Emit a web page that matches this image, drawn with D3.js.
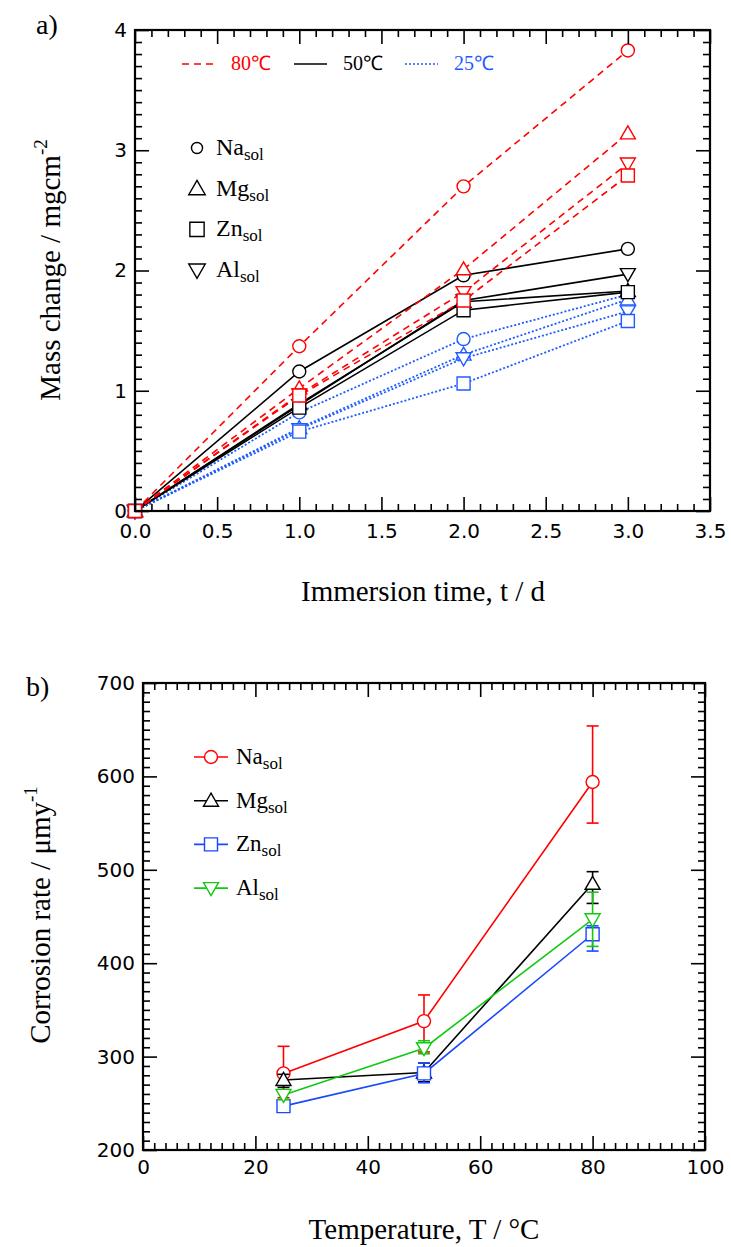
<!DOCTYPE html>
<html><head><meta charset="utf-8">
<script src="https://cdn.jsdelivr.net/npm/d3@7"></script>
<style>body{margin:0;background:#fff}svg{display:block}</style>
</head><body>
<script>
// ---------- data: panel a ----------
const days = [0, 1, 2, 3];
const na80 = [0, 1.37, 2.70, 3.83];
const mg80 = [0, 1.02, 2.01, 3.14];
const al80 = [0, 0.97, 1.82, 2.89];
const zn80 = [0, 0.96, 1.75, 2.79];
const na50 = [0, 1.16, 1.96, 2.18];
const mg50 = [0, 0.89, 1.74, 1.83];
const al50 = [0, 0.88, 1.75, 1.97];
const zn50 = [0, 0.86, 1.67, 1.82];
const na25 = [0, 0.82, 1.43, 1.80];
const mg25 = [0, 0.69, 1.30, 1.76];
const al25 = [0, 0.68, 1.27, 1.66];
const zn25 = [0, 0.66, 1.06, 1.58];
const tempLabels = ["80\u2103", "50\u2103", "25\u2103"];
const solNames = ["Na", "Mg", "Zn", "Al"];
const xTicksA = [0, 0.5, 1, 1.5, 2, 2.5, 3, 3.5];
const yTicksA = [0, 1, 2, 3, 4];

// ---------- data: panel b ----------
const temps = [25, 50, 80];
const naRate = [282, 338, 594];
const naLo = [256, 305, 550];
const naHi = [311, 366, 654];
const mgRate = [275, 283, 485];
const mgLo = [267, 273, 464];
const mgHi = [281, 293, 498];
const znRate = [247, 282, 431];
const znLo = [243, 272, 413];
const znHi = [251, 293, 440];
const alRate = [259, 309, 447];
const alLo = [254, 303, 418];
const alHi = [264, 317, 476];
const xTicksB = [0, 20, 40, 60, 80, 100];
const yTicksB = [200, 300, 400, 500, 600, 700];

const W = 731, H = 1247;
const svg = d3.select("body").append("svg").attr("width", W).attr("height", H);

const serif = "'Liberation Serif','Times New Roman',serif";
const sans = "'DejaVu Sans',Arial,Helvetica,sans-serif";
const RED = "#ff0000", BLACK = "#000000", BLUE_A = "#1f5cff", BLUE_B = "#1848ff", GREEN = "#12c912";

function markerPath(type, k = 1) {
  const r = 6.5 * k, a = 7.5 * k, h1 = 7.5 * k, h2 = 5.5 * k, q = 6.5 * k;
  switch (type) {
    case "circle": return `M${r},0A${r},${r} 0 1,1 ${-r},0A${r},${r} 0 1,1 ${r},0Z`;
    case "up": return `M0,${-h1}L${a},${h2}L${-a},${h2}Z`;
    case "down": return `M0,${h1}L${a},${-h2}L${-a},${-h2}Z`;
    case "square": return `M${-q},${-q}h${2 * q}v${2 * q}h${-2 * q}Z`;
  }
}
const shapeOf = { Na: "circle", Mg: "up", Zn: "square", Al: "down" };

function range(a, b, step) { const out = []; for (let v = a; v <= b + 1e-9; v += step) out.push(+v.toFixed(6)); return out; }

function drawFrame(x, y, xMajor, xMinor, yMajor, yMinor, xFmt, yFmt, xPad) {
  const [x0, x1] = x.range(), [yb, yt] = y.range();
  const g = svg.append("g");
  const MAJ = -14, MIN = -7;
  const add = (tr, axis) => g.append("g").attr("transform", tr).call(axis);
  add(`translate(0,${yb})`, d3.axisBottom(x).tickValues(xMinor).tickSize(MIN).tickFormat(""));
  add(`translate(0,${yb})`, d3.axisBottom(x).tickValues(xMajor).tickSize(MAJ).tickPadding(xPad).tickFormat(xFmt));
  add(`translate(0,${yt})`, d3.axisTop(x).tickValues(xMinor).tickSize(MIN).tickFormat(""));
  add(`translate(0,${yt})`, d3.axisTop(x).tickValues(xMajor).tickSize(MAJ).tickFormat(""));
  add(`translate(${x0},0)`, d3.axisLeft(y).tickValues(yMinor).tickSize(MIN).tickFormat(""));
  add(`translate(${x0},0)`, d3.axisLeft(y).tickValues(yMajor).tickSize(MAJ).tickPadding(8).tickFormat(yFmt));
  add(`translate(${x1},0)`, d3.axisRight(y).tickValues(yMinor).tickSize(MIN).tickFormat(""));
  add(`translate(${x1},0)`, d3.axisRight(y).tickValues(yMajor).tickSize(MAJ).tickFormat(""));
  g.selectAll(".domain").remove();
  g.selectAll(".tick line").attr("stroke", "#000").attr("stroke-width", 1.6);
  g.selectAll(".tick text").attr("font-family", sans).attr("font-size", 20).attr("fill", "#000");
  g.append("rect").attr("x", x0).attr("y", yt).attr("width", x1 - x0).attr("height", yb - yt)
    .attr("fill", "none").attr("stroke", "#000").attr("stroke-width", 2.2);
  return g;
}

// ================= PANEL A =================
const xA = d3.scaleLinear().domain([0, 3.5]).range([135, 710]);
const yA = d3.scaleLinear().domain([0, 4]).range([511, 30]);

const seriesA = [
  { t: 25, color: BLUE_A, dash: "2,2", data: [["Na", na25], ["Mg", mg25], ["Al", al25], ["Zn", zn25]] },
  { t: 50, color: BLACK, dash: null, data: [["Na", na50], ["Mg", mg50], ["Al", al50], ["Zn", zn50]] },
  { t: 80, color: RED, dash: "7,5", data: [["Na", na80], ["Mg", mg80], ["Al", al80], ["Zn", zn80]] }
];
const plotA = svg.append("g");
const lineA = d3.line().x((d, i) => xA(days[i])).y(d => yA(d));
seriesA.forEach(s => {
  s.data.forEach(([name, vals]) => {
    plotA.append("path").attr("d", lineA(vals)).attr("fill", "none").attr("stroke", s.color)
      .attr("stroke-width", s.dash === "2,2" ? 1.8 : 1.6).attr("stroke-dasharray", s.dash);
    plotA.selectAll(null).data(vals).enter().append("path")
      .attr("transform", (d, i) => `translate(${xA(days[i])},${yA(d)})`)
      .attr("d", markerPath(shapeOf[name])).attr("fill", "#fff").attr("stroke", s.color).attr("stroke-width", 1.4);
  });
});

drawFrame(xA, yA, xTicksA, range(0, 3.5, 0.1).filter(v => Math.abs(v * 2 - Math.round(v * 2)) > 1e-6),
  yTicksA, range(0, 4, 0.1).filter(v => Math.abs(v - Math.round(v)) > 1e-6), d3.format(".1f"), d3.format("d"), 13);

// legend temperatures
const legT = [
  { x: 182, color: RED, dash: "7,5" },
  { x: 294, color: BLACK, dash: null },
  { x: 405, color: BLUE_A, dash: "2,2" }
];
legT.forEach((l, i) => {
  svg.append("line").attr("x1", l.x).attr("x2", l.x + 33).attr("y1", 64).attr("y2", 64)
    .attr("stroke", l.color).attr("stroke-width", 1.7).attr("stroke-dasharray", l.dash);
  svg.append("text").attr("x", l.x + 49).attr("y", 70).attr("font-family", serif).attr("font-size", 20)
    .attr("fill", l.color).text(tempLabels[i]);
});
// legend symbols
solNames.forEach((n, i) => {
  const yy = 148 + i * 40.7;
  svg.append("path").attr("transform", `translate(197,${yy})`).attr("d", markerPath(shapeOf[n], n === "Na" ? 0.85 : 1.1))
    .attr("fill", "#fff").attr("stroke", "#000").attr("stroke-width", 1.4);
  const t = svg.append("text").attr("x", 216).attr("y", yy + 7).attr("font-family", serif).attr("font-size", 24).attr("fill", "#000");
  t.append("tspan").text(n);
  t.append("tspan").attr("dy", 5).attr("font-size", 17).text("sol");
});

svg.append("text").attr("x", 36).attr("y", 34).attr("font-family", serif).attr("font-size", 28).text("a)");
svg.append("text").attr("x", 423).attr("y", 601).attr("text-anchor", "middle").attr("font-family", serif)
  .attr("font-size", 29).text("Immersion time, t / d");
{
  const t = svg.append("text").attr("transform", "translate(60,270) rotate(-90)").attr("text-anchor", "middle")
    .attr("font-family", serif).attr("font-size", 29);
  t.append("tspan").text("Mass change / mgcm");
  t.append("tspan").attr("dy", -13).attr("font-size", 19).text("-2");
}

// ================= PANEL B =================
const xB = d3.scaleLinear().domain([0, 100]).range([143, 705]);
const yB = d3.scaleLinear().domain([200, 700]).range([1150, 683]);

const seriesB = [
  { name: "Na", color: RED, vals: naRate, lo: naLo, hi: naHi },
  { name: "Mg", color: BLACK, vals: mgRate, lo: mgLo, hi: mgHi },
  { name: "Zn", color: BLUE_B, vals: znRate, lo: znLo, hi: znHi },
  { name: "Al", color: GREEN, vals: alRate, lo: alLo, hi: alHi }
];
const plotB = svg.append("g");
const lineB = d3.line().x((d, i) => xB(temps[i])).y(d => yB(d));
seriesB.forEach(s => {
  const g = plotB.append("g");
  temps.forEach((t, i) => {
    const cx = xB(t);
    g.append("line").attr("x1", cx).attr("x2", cx).attr("y1", yB(s.lo[i])).attr("y2", yB(s.hi[i]))
      .attr("stroke", s.color).attr("stroke-width", 1.6);
    [s.lo[i], s.hi[i]].forEach(v => g.append("line").attr("x1", cx - 6).attr("x2", cx + 6)
      .attr("y1", yB(v)).attr("y2", yB(v)).attr("stroke", s.color).attr("stroke-width", 1.6));
  });
  g.append("path").attr("d", lineB(s.vals)).attr("fill", "none").attr("stroke", s.color).attr("stroke-width", 1.6);
  g.selectAll(null).data(s.vals).enter().append("path")
    .attr("transform", (d, i) => `translate(${xB(temps[i])},${yB(d)})`)
    .attr("d", markerPath(shapeOf[s.name])).attr("fill", "#fff").attr("stroke", s.color).attr("stroke-width", 1.4);
});

drawFrame(xB, yB, xTicksB, range(0, 100, 2).filter(v => v % 20 !== 0),
  yTicksB, range(200, 700, 10).filter(v => v % 100 !== 0), d3.format("d"), d3.format("d"), 10);

// legend b
seriesB.forEach((s, i) => {
  const yy = 757 + i * 43.7;
  svg.append("line").attr("x1", 194).attr("x2", 228).attr("y1", yy).attr("y2", yy).attr("stroke", s.color).attr("stroke-width", 1.6);
  svg.append("path").attr("transform", `translate(211,${yy})`).attr("d", markerPath(shapeOf[s.name]))
    .attr("fill", "#fff").attr("stroke", s.color).attr("stroke-width", 1.4);
  const t = svg.append("text").attr("x", 236).attr("y", yy + 7).attr("font-family", serif).attr("font-size", 23).attr("fill", "#000");
  t.append("tspan").text(s.name);
  t.append("tspan").attr("dy", 5).attr("font-size", 17).text("sol");
});

svg.append("text").attr("x", 26).attr("y", 696).attr("font-family", serif).attr("font-size", 28).text("b)");
svg.append("text").attr("x", 424).attr("y", 1239).attr("text-anchor", "middle").attr("font-family", serif)
  .attr("font-size", 29).text("Temperature, T / \u00B0C");
{
  const t = svg.append("text").attr("transform", "translate(50,915) rotate(-90)").attr("text-anchor", "middle")
    .attr("font-family", serif).attr("font-size", 29);
  t.append("tspan").text("Corrosion rate / \u03BCmy");
  t.append("tspan").attr("dy", -13).attr("font-size", 19).text("-1");
}
</script>
</body></html>
